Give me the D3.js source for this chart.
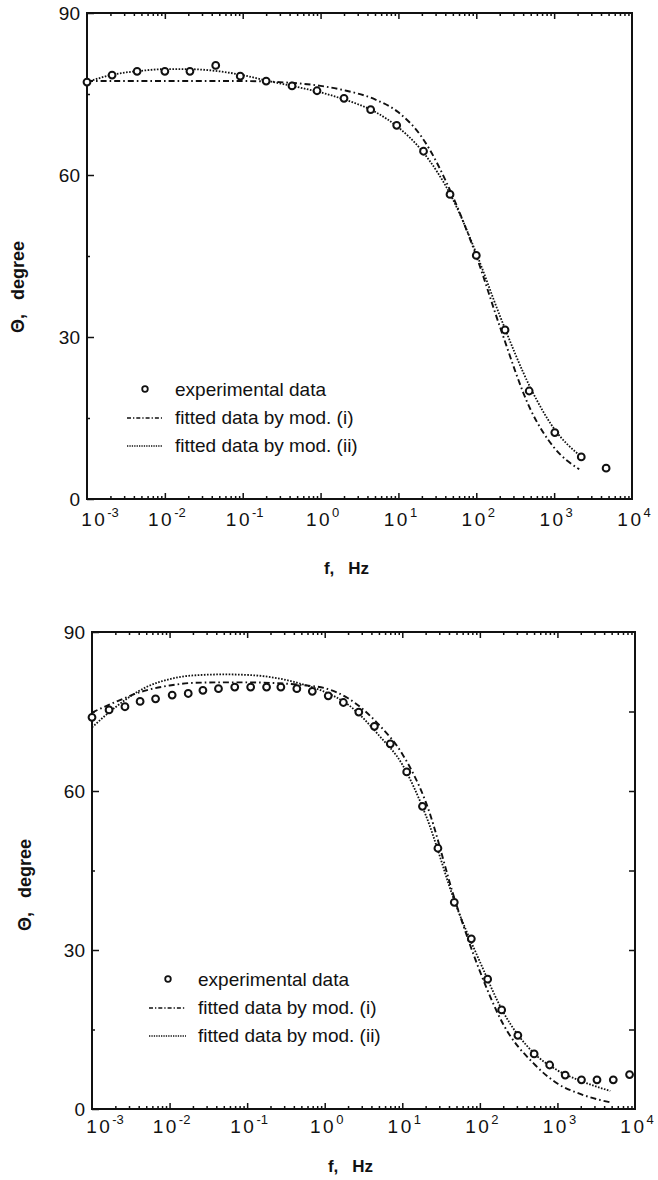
<!DOCTYPE html>
<html>
<head>
<meta charset="utf-8">
<script src="https://cdn.jsdelivr.net/npm/d3@7"></script>
<style>
body { margin: 0; background: #fff; }
svg { display: block; font-family: "Liberation Sans", Arial, sans-serif; }
</style>
</head>
<body>
<script>
// tick labels
var yTicks = [0, 30, 60, 90];
var yMinor = [15, 45, 75];
var xDecades = [1e-3, 1e-2, 1e-1, 1e0, 1e1, 1e2, 1e3, 1e4];
var xExps = ["-3", "-2", "-1", "0", "1", "2", "3", "4"];

// upper figure
var fExpA = [0.001, 0.0021, 0.0044, 0.01, 0.021, 0.045, 0.093, 0.2, 0.43, 0.9, 2.0, 4.4, 9.5, 21, 46, 100, 234, 478, 1020, 2230, 4650];
var thExpA = [77.2, 78.5, 79.2, 79.2, 79.2, 80.3, 78.3, 77.4, 76.5, 75.6, 74.2, 72.1, 69.2, 64.4, 56.4, 45.1, 31.3, 20.0, 12.3, 7.8, 5.7];
var fModIA = [0.001, 0.01, 0.1, 0.3, 1, 2, 5, 10, 20, 50, 100, 200, 500, 1000, 2100];
var thModIA = [77.4, 77.4, 77.4, 77.2, 76.5, 75.7, 74.0, 71.6, 67.0, 56.0, 45.0, 32.0, 16.5, 9.5, 5.5];
var fModIIA = [0.001, 0.002, 0.005, 0.01, 0.02, 0.05, 0.1, 0.2, 0.5, 1, 2, 5, 10, 20, 50, 100, 200, 500, 1000, 2200];
var thModIIA = [77.2, 78.5, 79.3, 79.6, 79.6, 79.2, 78.5, 77.5, 76.3, 75.3, 74.0, 71.7, 68.8, 64.5, 55.5, 45.5, 34.0, 20.5, 13.0, 7.9];

// lower figure
var fExpB = [0.001, 0.00166, 0.00266, 0.00417, 0.0066, 0.0108, 0.0174, 0.0269, 0.0427, 0.0692, 0.111, 0.178, 0.272, 0.437, 0.692, 1.11, 1.74, 2.75, 4.37, 7.0, 11.4, 18.2, 28.8, 46.8, 77.6, 126, 191, 309, 501, 794, 1259, 2042, 3236, 5248, 8511];
var thExpB = [73.9, 75.3, 75.9, 76.9, 77.4, 78.1, 78.4, 79.0, 79.3, 79.6, 79.6, 79.6, 79.6, 79.3, 78.8, 77.95, 76.7, 74.9, 72.2, 68.9, 63.6, 57.1, 49.2, 39.0, 32.1, 24.5, 18.7, 13.9, 10.4, 8.3, 6.4, 5.5, 5.5, 5.5, 6.5];
var fModIB = [0.001, 0.002, 0.005, 0.01, 0.02, 0.05, 0.1, 0.2, 0.5, 1, 2, 5, 10, 20, 50, 100, 200, 500, 1000, 2000, 5000];
var thModIB = [74.8, 76.8, 79.0, 79.9, 80.4, 80.5, 80.5, 80.4, 80.0, 79.4, 77.5, 72.5, 67.0, 58.0, 38.5, 26.0, 16.0, 8.5, 4.8, 2.8, 1.2];
var fModIIB = [0.001, 0.002, 0.005, 0.01, 0.02, 0.05, 0.1, 0.2, 0.5, 1, 2, 5, 10, 20, 50, 100, 200, 500, 1000, 2000, 4800];
var thModIIB = [72.0, 75.8, 79.6, 81.1, 81.8, 82.0, 81.9, 81.5, 80.2, 78.7, 76.3, 70.5, 65.0, 55.5, 38.2, 27.8, 18.3, 10.5, 7.3, 5.3, 3.4];

var legendText = ["experimental data", "fitted data by mod. (i)", "fitted data by mod. (ii)"];

var panels = [
  {top: 13, bottom: 499, left: 87, right: 632, rightTicks: false,
   exp: [fExpA, thExpA], m1: [fModIA, thModIA], m2: [fModIIA, thModIIA],
   xLab: 27, title: 574, yTitleX: 24, yTitleY: 287, leg: {x: 145, y: 389, lx0: 127, lx1: 162, tx: 175}},
  {top: 632, bottom: 1109, left: 92, right: 635, rightTicks: true,
   exp: [fExpB, thExpB], m1: [fModIB, thModIB], m2: [fModIIB, thModIIB],
   xLab: 24, title: 1172, yTitleX: 31, yTitleY: 885, leg: {x: 168, y: 979, lx0: 149, lx1: 186, tx: 198}}
];

var svg = d3.select("body").append("svg")
    .attr("width", 658)
    .attr("height", 1180);

var dashDot = "6,3,1.6,3";
var dotted = "1.6,1.5";

panels.forEach(function(p) {
  var x = d3.scaleLog().domain([1e-3, 1e4]).range([p.left, p.right]);
  var y = d3.scaleLinear().domain([0, 90]).range([p.bottom, p.top]);
  var minorX = x.ticks().filter(function(d) { return xDecades.indexOf(d) < 0; });
  var g = svg.append("g");

  // frame
  g.append("rect")
      .attr("x", p.left).attr("y", p.top)
      .attr("width", p.right - p.left).attr("height", p.bottom - p.top)
      .attr("fill", "none").attr("stroke", "#111").attr("stroke-width", 2);

  // x ticks, bottom and top, pointing in
  [d3.axisBottom, d3.axisTop].forEach(function(ax, k) {
    var pos = k == 0 ? p.bottom : p.top;
    g.append("g").attr("transform", "translate(0," + pos + ")")
        .call(ax(x).tickValues(xDecades.slice(1, -1)).tickSize(-6).tickFormat(""));
    g.append("g").attr("transform", "translate(0," + pos + ")")
        .call(ax(x).tickValues(minorX).tickSize(-3).tickFormat(""));
  });

  // y ticks
  g.append("g").attr("class", "yaxis").attr("transform", "translate(" + p.left + ",0)")
      .call(d3.axisLeft(y).tickValues(yTicks).tickSize(-7).tickPadding(7).tickFormat(d3.format("d")));
  g.append("g").attr("transform", "translate(" + p.left + ",0)")
      .call(d3.axisLeft(y).tickValues(yMinor).tickSize(-3).tickFormat(""));
  if (p.rightTicks) {
    g.append("g").attr("transform", "translate(" + p.right + ",0)")
        .call(d3.axisRight(y).tickValues(yMinor.concat([30, 60])).tickSize(-6).tickFormat(""));
  }

  g.selectAll(".domain").remove();
  g.selectAll(".tick line").attr("stroke", "#111").attr("stroke-width", 1.5);
  g.selectAll(".yaxis text")
      .attr("font-size", "19px").attr("fill", "#111")
      .attr("font-family", "Liberation Sans, Arial, sans-serif");

  // decade labels with superscripts
  var lab = g.selectAll(".xlab")
      .data(xDecades)
    .enter().append("text")
      .attr("class", "xlab")
      .attr("x", function(d, i) { return x(d) + (i == 0 ? 13 : 2); })
      .attr("y", p.bottom + p.xLab)
      .attr("text-anchor", "middle")
      .attr("font-size", "19px")
      .attr("fill", "#111");
  lab.append("tspan").attr("letter-spacing", "2.5px").text("10");
  lab.append("tspan").attr("font-size", "13px").attr("dy", -9)
      .text(function(d, i) { return xExps[i]; });

  // axis titles
  var t = g.append("text")
      .attr("x", (p.left + p.right) / 2 - 13)
      .attr("y", p.title)
      .attr("text-anchor", "middle")
      .attr("font-size", "17px").attr("font-weight", "bold").attr("fill", "#111");
  t.append("tspan").text("f,");
  t.append("tspan").attr("dx", 14).text("Hz");

  var yt = g.append("text")
      .attr("transform", "translate(" + p.yTitleX + "," + p.yTitleY + ") rotate(-90)")
      .attr("text-anchor", "middle")
      .attr("font-size", "18px").attr("font-weight", "bold").attr("fill", "#111");
  yt.append("tspan").text("Θ,");
  yt.append("tspan").attr("dx", 14).text("degree");

  // fitted curves
  var line = d3.line()
      .x(function(d) { return x(d[0]); })
      .y(function(d) { return y(d[1]); })
      .curve(d3.curveMonotoneX);

  g.append("path")
      .datum(d3.zip(p.m1[0], p.m1[1]))
      .attr("d", line)
      .attr("fill", "none").attr("stroke", "#111")
      .attr("stroke-width", 1.9).attr("stroke-dasharray", dashDot);

  g.append("path")
      .datum(d3.zip(p.m2[0], p.m2[1]))
      .attr("d", line)
      .attr("fill", "none").attr("stroke", "#111")
      .attr("stroke-width", 1.8).attr("stroke-dasharray", dotted);

  // experimental points
  g.selectAll(".dot")
      .data(d3.zip(p.exp[0], p.exp[1]))
    .enter().append("circle")
      .attr("class", "dot")
      .attr("cx", function(d) { return x(d[0]); })
      .attr("cy", function(d) { return y(d[1]); })
      .attr("r", 3.4)
      .attr("fill", "#fff").attr("stroke", "#111").attr("stroke-width", 2);

  // legend
  var L = p.leg;
  g.append("circle")
      .attr("cx", L.x).attr("cy", L.y).attr("r", 2.8)
      .attr("fill", "#fff").attr("stroke", "#111").attr("stroke-width", 1.8);
  [dashDot, dotted].forEach(function(da, i) {
    g.append("line")
        .attr("x1", L.lx0).attr("x2", L.lx1)
        .attr("y1", L.y + 29 + i * 28).attr("y2", L.y + 29 + i * 28)
        .attr("stroke", "#111").attr("stroke-width", 1.3)
        .attr("stroke-dasharray", i == 0 ? "4,2,1.3,2" : "1.3,1.1");
  });
  g.selectAll(".legtext")
      .data(legendText)
    .enter().append("text")
      .attr("class", "legtext")
      .attr("x", L.tx)
      .attr("y", function(d, i) { return L.y + 7 + i * 28; })
      .attr("font-size", "19px").attr("fill", "#111")
      .text(function(d) { return d; });
});
</script>
</body>
</html>
